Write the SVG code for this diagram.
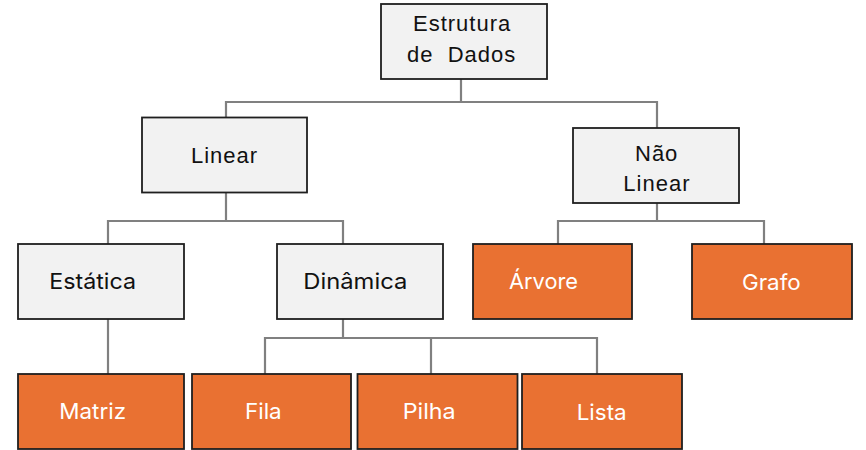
<svg xmlns="http://www.w3.org/2000/svg" width="866" height="450" viewBox="0 0 866 450">
<style>
.g{fill:#f2f2f2;stroke:#1f1f1f;stroke-width:1.8}
.o{fill:#e97132;stroke:#1f1f1f;stroke-width:1.8}
.t1{font-family:"Liberation Sans",Arial,sans-serif;font-size:22px;letter-spacing:1px;fill:#111;white-space:pre}
.t2{font-family:Inter,"Noto Sans",sans-serif;font-size:22px;fill:#111}
.tw{font-family:Inter,"Noto Sans",sans-serif;font-size:22px;fill:#fff}
.c{fill:none;stroke:#808080;stroke-width:2.2}
</style>
<rect width="866" height="450" fill="#fff"/>
<g id="connectors">
<path class="c" d="M461,79 V102 M226,117 V102 H657 V128"/>
<path class="c" d="M226,192 V221 M108,244 V221 H343 V244"/>
<path class="c" d="M657,203 V221 M558,244 V221 H764 V244"/>
<path class="c" d="M108,319 V374"/>
<path class="c" d="M343,319 V338 M265,374 V338 H597 V374 M431,338 V374"/>
</g>
<g id="root"><rect class="g" x="381" y="4" width="166" height="75"/>
<text class="t1" x="413" y="31">Estrutura</text>
<text class="t1" x="407" y="61.7" xml:space="preserve">de  Dados</text></g>
<g id="linear"><rect class="g" x="142" y="117.5" width="165" height="75"/>
<text class="t1" x="191" y="162.7">Linear</text></g>
<g id="nao-linear"><rect class="g" x="573" y="128" width="166" height="75"/>
<text class="t1" x="635" y="161">Não</text>
<text class="t1" x="623.3" y="191">Linear</text></g>
<g id="estatica"><rect class="g" x="18" y="244" width="166" height="75"/>
<text class="t2" x="49.3" y="289" textLength="86.7" lengthAdjust="spacingAndGlyphs">Estática</text></g>
<g id="dinamica"><rect class="g" x="277" y="244" width="166" height="75"/>
<text class="t2" x="303.3" y="289" textLength="104" lengthAdjust="spacingAndGlyphs">Dinâmica</text></g>
<g id="arvore"><rect class="o" x="473" y="244" width="159" height="75"/>
<text class="tw" x="509" y="289" textLength="69" lengthAdjust="spacingAndGlyphs">Árvore</text></g>
<g id="grafo"><rect class="o" x="692" y="244" width="160" height="75"/>
<text class="tw" x="742" y="290" textLength="58.7" lengthAdjust="spacingAndGlyphs">Grafo</text></g>
<g id="matriz"><rect class="o" x="18" y="374" width="166" height="75"/>
<text class="tw" x="59.3" y="419.3" textLength="66.7" lengthAdjust="spacingAndGlyphs">Matriz</text></g>
<g id="fila"><rect class="o" x="192" y="374" width="159" height="75"/>
<text class="tw" x="245" y="419" textLength="36.7" lengthAdjust="spacingAndGlyphs">Fila</text></g>
<g id="pilha"><rect class="o" x="357.5" y="374" width="160" height="75"/>
<text class="tw" x="402.7" y="419.3" textLength="53" lengthAdjust="spacingAndGlyphs">Pilha</text></g>
<g id="lista"><rect class="o" x="522" y="374" width="160" height="75"/>
<text class="tw" x="576.7" y="420" textLength="50" lengthAdjust="spacingAndGlyphs">Lista</text></g>
</svg>
